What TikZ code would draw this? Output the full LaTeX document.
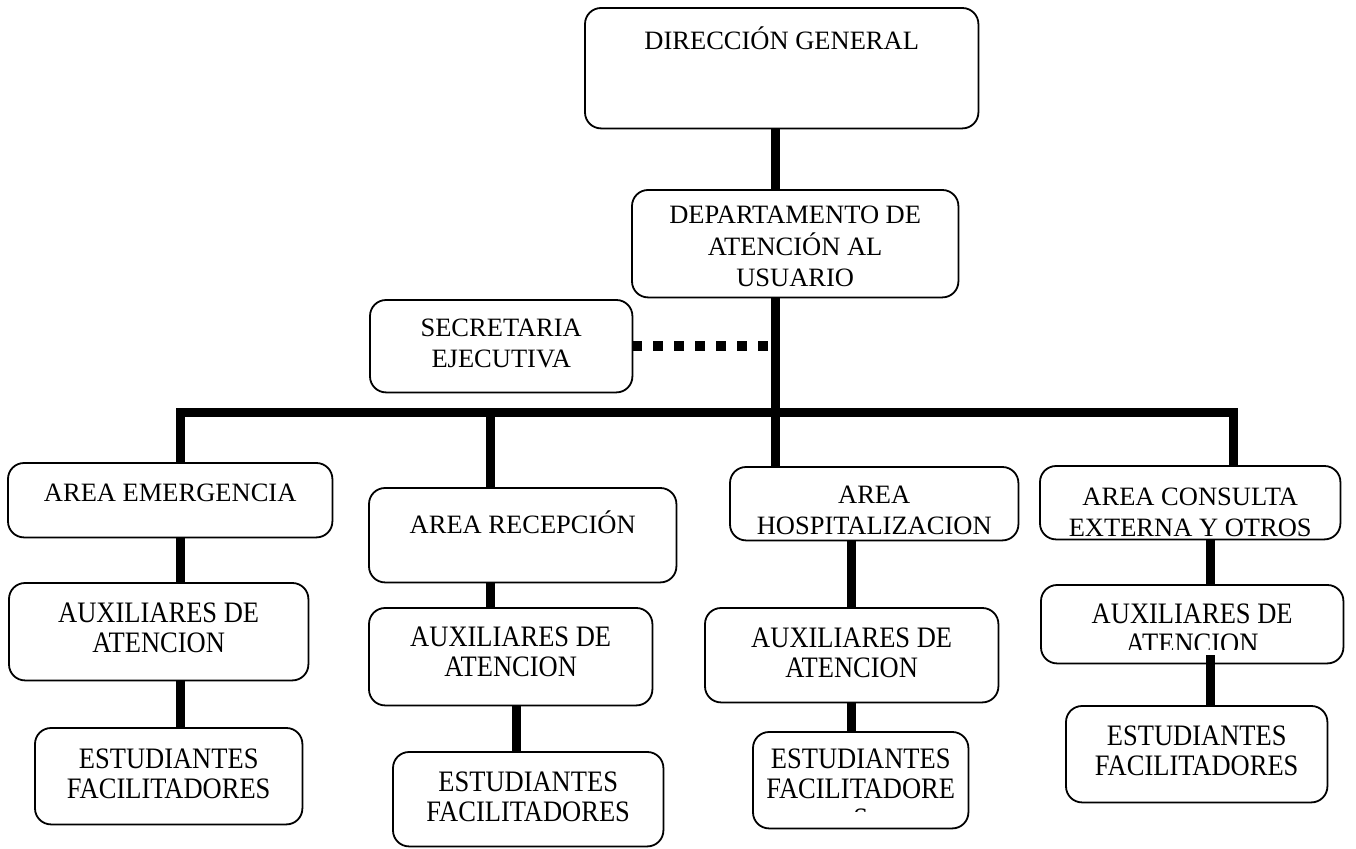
\documentclass[tikz,border=0pt]{standalone}
\usepackage{fontspec}
\setmainfont{Liberation Serif}
\newcommand\ml[1]{\begin{tabular}[t]{@{}c@{}}#1\end{tabular}}
\newcommand\mlt[1]{\scalebox{1}[1.12]{\fontsize{26.5}{27}\selectfont\ml{#1}}}
\begin{document}
\begin{tikzpicture}[x=1pt,y=-1pt,
  box/.style={anchor=north west, inner sep=0pt},
  boxline/.style={draw, line width=1.8pt, rounded corners=16pt, fill=white},
  txt/.style={anchor=base, inner sep=0pt, font=\fontsize{26.5}{31}\selectfont},
  conn/.style={line width=9pt},
  dotconn/.style={line width=10pt, dash pattern=on 10pt off 11pt}]
\useasboundingbox (0,0) rectangle (1356,848);
% column coordinates
\coordinate (c1) at (180,412);
\coordinate (c2) at (490,412);
\coordinate (c2b) at (516,412);
\coordinate (c3) at (775,412);
\coordinate (c3b) at (851,412);
\coordinate (c4) at (1233,412);
\coordinate (c4b) at (1210,412);
% boxes (positions only, outlines drawn later on top of connectors)
\path
 node[box, minimum width=393pt, minimum height=120pt] (dg) at (585,8) {}
 node[box, minimum width=326pt, minimum height=107pt] (dau) at (632,190) {}
 node[box, minimum width=262pt, minimum height=92pt] (sec) at (370,300) {}
 node[box, minimum width=324pt, minimum height=74pt] (emerg) at (8,463) {}
 node[box, minimum width=307pt, minimum height=94pt] (recep) at (369,488) {}
 node[box, minimum width=288pt, minimum height=73pt] (hosp) at (730,467) {}
 node[box, minimum width=300pt, minimum height=73pt] (cons) at (1040,466) {}
 node[box, minimum width=299pt, minimum height=97pt] (aux1) at (9,583) {}
 node[box, minimum width=267pt, minimum height=96pt] (est1) at (35,728) {}
 node[box, minimum width=283pt, minimum height=97pt] (aux2) at (369,608) {}
 node[box, minimum width=270pt, minimum height=94pt] (est2) at (393,752) {}
 node[box, minimum width=293pt, minimum height=94pt] (aux3) at (705,608) {}
 node[box, minimum width=215pt, minimum height=96pt] (est3) at (753,732) {}
 node[box, minimum width=302pt, minimum height=78pt] (aux4) at (1041,585) {}
 node[box, minimum width=261pt, minimum height=96pt] (est4) at (1066,706) {};
% connectors
\draw[conn] (emerg.north -| c1) -- (c1) -- (c4) -- (cons.north -| c4);
\draw[conn] (dg.south -| c3) -- (dau.north -| c3);
\draw[conn] (dau.south -| c3) -- (hosp.north -| c3);
\draw[conn] (c2) -- (recep.north -| c2);
\draw[conn] (emerg.south -| c1) -- (aux1.north -| c1);
\draw[conn] (aux1.south -| c1) -- (est1.north -| c1);
\draw[conn] (recep.south -| c2) -- (aux2.north -| c2);
\draw[conn] (aux2.south -| c2b) -- (est2.north -| c2b);
\draw[conn] (hosp.south -| c3b) -- (aux3.north -| c3b);
\draw[conn] (aux3.south -| c3b) -- (est3.north -| c3b);
\draw[conn] (cons.south -| c4b) -- (aux4.north -| c4b);
\draw[dotconn] (sec.east) -- (sec.east -| c3);
% visible box outlines
\foreach \b in {dg,dau,sec,emerg,recep,hosp,cons,aux1,est1,aux2,est2,aux3,est3,aux4,est4}{
  \draw[boxline] (\b.north west) rectangle (\b.south east);
}
\draw[conn] ([yshift=8pt]aux4.south -| c4b) -- (est4.north -| c4b);
% texts
\node[txt] (t1) at (dg.north |- 0,50) {DIRECCIÓN GENERAL};
\node[txt] (t2) at (dau.north |- 0,223) {\ml{DEPARTAMENTO DE\\ATENCIÓN AL\\USUARIO}};
\node[txt] (t3) at (sec.north |- 0,336) {\ml{SECRETARIA\\EJECUTIVA}};
\node[txt] (t4) at (emerg.north |- 0,501) {AREA EMERGENCIA};
\node[txt] (t5) at (recep.north |- 0,533) {AREA RECEPCIÓN};
\node[txt] (t6) at (hosp.north |- 0,503) {\ml{AREA\\HOSPITALIZACION}};
\node[txt] (t7) at (cons.north |- 0,505) {\ml{AREA CONSULTA\\EXTERNA Y OTROS}};
\node[txt] (t8) at (aux1.north |- 0,622) {\mlt{AUXILIARES DE\\ATENCION}};
\node[txt] (t9) at (est1.north |- 0,768) {\mlt{ESTUDIANTES\\FACILITADORES}};
\node[txt] (t10) at (aux2.north |- 0,646) {\mlt{AUXILIARES DE\\ATENCION}};
\node[txt] (t11) at (est2.north |- 0,791) {\mlt{ESTUDIANTES\\FACILITADORES}};
\node[txt] (t12) at (aux3.north |- 0,647) {\mlt{AUXILIARES DE\\ATENCION}};
\begin{scope}
  \clip (753,732) rectangle (968,811);
  \node[txt] (t13) at (est3.north |- 0,768) {\mlt{ESTUDIANTES\\FACILITADORE\\S}};
\end{scope}
\begin{scope}
  \clip (1041,585) rectangle (1343,649);
  \node[txt] (t14) at (aux4.north |- 0,623) {\mlt{AUXILIARES DE\\ATENCION}};
\end{scope}
\node[txt] (t15) at (est4.north |- 0,745) {\mlt{ESTUDIANTES\\FACILITADORES}};
\end{tikzpicture}
\end{document}
